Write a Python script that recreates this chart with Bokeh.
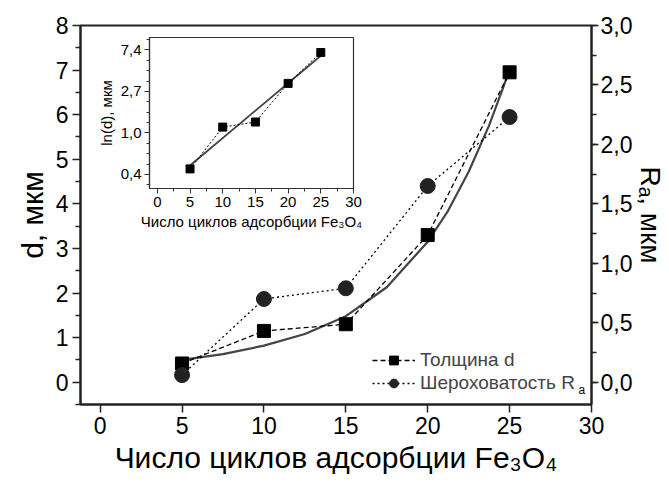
from bokeh.plotting import figure
from bokeh.models import (Range1d, LinearAxis, FixedTicker, CustomJSTickFormatter,
                          Legend, LegendItem, Label)
from bokeh.embed import file_html
from bokeh.resources import INLINE
import numpy as np

# ---- data ----
cycles = [5, 10, 15, 20, 25]
thickness_d = [0.42, 1.15, 1.30, 3.30, 6.95]          # d, мкм
roughness_ra = [0.06, 0.70, 0.79, 1.65, 2.23]          # Ra, мкм
fit_x = [5, 7.5, 10, 12.5, 15, 17.5, 20, 21.25, 22.5, 23.75, 25]
fit_d = [0.50, 0.63, 0.82, 1.08, 1.48, 2.13, 3.15, 3.85, 4.72, 5.76, 7.0]
inset_fit_x = [5, 25]
inset_fit_d = [0.456, 6.42]
inset_ticks_ln = [-1, 0, 1, 2]
inset_tick_labels = ["0,4", "1,0", "2,7", "7,4"]

FONT = "Liberation Sans"

# ---- main figure ----
p = figure(width=669, height=482, output_backend="svg", toolbar_location=None,
           x_range=Range1d(-1.2, 30), y_range=Range1d(-0.5, 8),
           min_border_left=80, min_border_right=77, min_border_top=25, min_border_bottom=78,
           y_axis_label="d, мкм", x_axis_label="Число циклов адсорбции Fe₃O₄")
p.extra_y_ranges = {"ra": Range1d(-0.1875, 3.0)}
p.grid.visible = False
p.outline_line_color = "#222222"
p.outline_line_width = 2
p.background_fill_color = "white"
p.border_fill_color = "white"

p.xaxis.ticker = FixedTicker(ticks=[0, 5, 10, 15, 20, 25, 30])
p.yaxis.ticker = FixedTicker(ticks=list(range(0, 9)), minor_ticks=[i + 0.5 for i in range(-1, 8)])

ra_axis = LinearAxis(y_range_name="ra", axis_label="Rₐ, мкм",
                     ticker=FixedTicker(ticks=[i * 0.5 for i in range(7)],
                                        minor_ticks=[i * 0.25 for i in range(13)]),
                     formatter=CustomJSTickFormatter(code="return tick.toFixed(1).replace('.', ',');"))
p.add_layout(ra_axis, "right")

for ax in p.axis:
    ax.axis_line_color = "#222222"
    ax.axis_line_width = 2
    ax.major_tick_line_color = "#222222"
    ax.minor_tick_line_color = "#222222"
    ax.major_tick_line_width = 1.5
    ax.minor_tick_line_width = 1.5
    ax.major_tick_in = 0
    ax.major_tick_out = 8
    ax.minor_tick_in = 0
    ax.minor_tick_out = 5
    ax.major_label_text_font = FONT
    ax.major_label_text_font_size = "23px"
    ax.major_label_text_color = "black"
    ax.axis_label_text_font = FONT
    ax.axis_label_text_font_style = "normal"
    ax.axis_label_text_font_size = "30px"
    ax.axis_label_text_color = "black"
    ax.major_label_standoff = 4
    ax.axis_label_standoff = 4
ra_axis.major_tick_out = 7
ra_axis.major_label_standoff = 2
ra_axis.axis_label_standoff = 0
ra_axis.axis_label_text_font_size = "28px"

# fit curve
p.line(fit_x, fit_d, line_color="#444444", line_width=2.2)
# thickness
l1 = p.line(cycles, thickness_d, line_color="black", line_width=1.3, line_dash="5 3")
m1 = p.scatter(cycles, thickness_d, marker="square", size=13, fill_color="black", line_color="black")
# roughness
l2 = p.line(cycles, roughness_ra, y_range_name="ra", line_color="black", line_width=1.3, line_dash="2 3")
m2 = p.scatter(cycles, roughness_ra, y_range_name="ra", marker="circle", size=15,
               fill_color="#222222", line_color="#222222")

legend = Legend(items=[LegendItem(label="Толщина d", renderers=[l1, m1]),
                       LegendItem(label="Шероховатость R", renderers=[l2, m2])],
                location=(292, 10), glyph_width=43, glyph_height=22, label_height=22,
                spacing=1, padding=0, margin=0, label_standoff=5,
                label_text_font=FONT, label_text_font_size="19px",
                border_line_color=None, background_fill_alpha=0)
p.add_layout(legend)
p.add_layout(Label(x=498, y=8, x_units="screen", y_units="screen", text="a",
                   text_font=FONT, text_font_size="12px", text_color="black"))

# ---- inset ----
ins = figure(frame_width=204, frame_height=151, output_backend="svg", toolbar_location=None,
             x_range=Range1d(-1.2, 30), y_range=Range1d(-1.34, 2.3),
             min_border_left=89, min_border_right=10, min_border_top=7, min_border_bottom=50,
             x_axis_label="Число циклов адсорбции Fe₃O₄", y_axis_label="ln(d), мкм")
ins.grid.visible = False
ins.border_fill_alpha = 0
ins.background_fill_color = "white"
ins.outline_line_color = "#333333"
ins.outline_line_width = 1.2
ins.xaxis.ticker = FixedTicker(ticks=[0, 5, 10, 15, 20, 25, 30],
                               minor_ticks=[i * 2.5 for i in range(13)])
ins.yaxis.ticker = FixedTicker(ticks=inset_ticks_ln,
                               minor_ticks=[-1.25 + i * 0.25 for i in range(15)])
ins.yaxis.major_label_overrides = dict(zip(inset_ticks_ln, inset_tick_labels))
for ax in ins.axis:
    ax.axis_line_color = "#333333"
    ax.axis_line_width = 1.2
    ax.major_tick_line_color = "#333333"
    ax.minor_tick_line_color = "#333333"
    ax.major_tick_in = 0
    ax.major_tick_out = 5
    ax.minor_tick_in = 0
    ax.minor_tick_out = 3
    ax.major_label_text_font = FONT
    ax.major_label_text_font_size = "15px"
    ax.major_label_text_color = "black"
    ax.axis_label_text_font = FONT
    ax.axis_label_text_font_style = "normal"
    ax.axis_label_text_font_size = "15px"
    ax.axis_label_text_color = "black"
    ax.major_label_standoff = 3
    ax.axis_label_standoff = 3

ln_d = np.log(thickness_d)
ins.line(inset_fit_x, np.log(inset_fit_d), line_color="#444444", line_width=1.8)
ins.line(cycles, ln_d, line_color="black", line_width=1, line_dash="2 2")
ins.scatter(cycles, ln_d, marker="square", size=8, fill_color="black", line_color="black")

ins.margin = (30 - 482, 0, 0, 60)

open("out.html", "w").write(file_html([p, ins], INLINE))
